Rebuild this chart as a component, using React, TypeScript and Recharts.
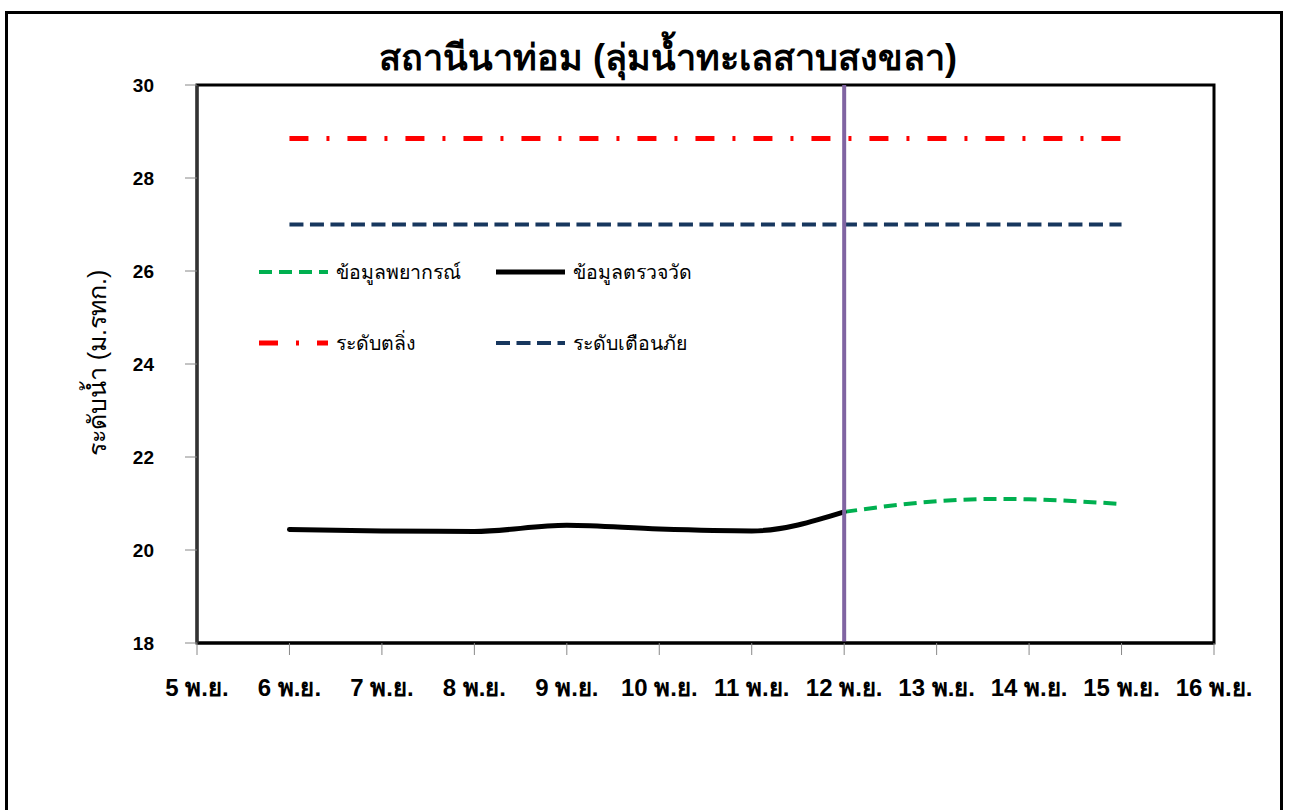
import React from 'react';
import {
  LineChart, Line, XAxis, YAxis, ReferenceLine, ReferenceArea,
} from 'recharts';

const days = [5, 6, 7, 8, 9, 10, 11, 12, 13, 14, 15, 16];
const dayLabels = ['5 พ.ย.', '6 พ.ย.', '7 พ.ย.', '8 พ.ย.', '9 พ.ย.', '10 พ.ย.', '11 พ.ย.', '12 พ.ย.', '13 พ.ย.', '14 พ.ย.', '15 พ.ย.', '16 พ.ย.'];
const observed = [null, 20.44, 20.41, 20.4, 20.53, 20.45, 20.41, 20.82, null, null, null, null];
const forecast = [null, null, null, null, null, null, null, 20.82, 21.05, 21.09, 20.99, null];
const bankLevel = [null, 28.85, 28.85, 28.85, 28.85, 28.85, 28.85, 28.85, 28.85, 28.85, 28.85, null];
const warningLevel = [null, 27.0, 27.0, 27.0, 27.0, 27.0, 27.0, 27.0, 27.0, 27.0, 27.0, null];
const yTicks = [18, 20, 22, 24, 26, 28, 30];
const todayDay = 12;

const title = 'สถานีนาท่อม (ลุ่มน้ำทะเลสาบสงขลา)';
const yTitle = 'ระดับน้ำ (ม.รทก.)';
const legendItems = [
  { name: 'ข้อมูลพยากรณ์', color: '#00B050', dash: '13 7', width: 4 },
  { name: 'ข้อมูลตรวจวัด', color: '#000000', dash: '', width: 5 },
  { name: 'ระดับตลิ่ง', color: '#FF0000', dash: '19 18 3 18', width: 5 },
  { name: 'ระดับเตือนภัย', color: '#17375E', dash: '14 6.5', width: 4 },
];

const data = days.map((d, i) => ({
  day: d,
  observed: observed[i],
  forecast: forecast[i],
  bank: bankLevel[i],
  warning: warningLevel[i],
}));

const FONT = '"Liberation Sans", Arial, sans-serif';

const LegendBox = () => (
  <div style={{ position: 'absolute', left: 258, top: 260, width: 500, height: 100, fontFamily: FONT }}>
    {legendItems.map((it, i) => {
      const col = i % 2;
      const row = Math.floor(i / 2);
      return (
        <div key={it.name} style={{ position: 'absolute', left: col * 237, top: row * 71, display: 'flex', alignItems: 'center', height: 24 }}>
          <svg width={72} height={10} style={{ display: 'block' }}>
            <line x1={1} y1={5} x2={70} y2={5} stroke={it.color} strokeWidth={it.width} strokeDasharray={it.dash || undefined} />
          </svg>
          <span style={{ marginLeft: 6, fontSize: 19.5, color: '#000', whiteSpace: 'nowrap' }}>{it.name}</span>
        </div>
      );
    })}
  </div>
);

export default function App() {
  return (
    <div style={{ position: 'absolute', left: 0, top: 0, width: 1290, height: 810, background: '#fff', overflow: 'hidden' }}>
      <div style={{ position: 'absolute', left: 5, top: 11, width: 1278, height: 820, border: '3px solid #000', boxSizing: 'border-box' }} />
      <div style={{ position: 'absolute', left: 368, top: 36, width: 600, textAlign: 'center', fontFamily: FONT, fontWeight: 'bold', fontSize: 36, lineHeight: '44px', color: '#000', whiteSpace: 'nowrap' }}>{title}</div>
      <div style={{ position: 'absolute', left: 97, top: 363, transform: 'translate(-50%, -50%) rotate(-90deg)', fontFamily: FONT, fontSize: 25, color: '#000', whiteSpace: 'nowrap' }}>{yTitle}</div>
      <LineChart width={1290} height={810} data={data} margin={{ top: 85, right: 76, bottom: 127, left: 137 }} style={{ position: 'absolute', left: 0, top: 0 }}>
        <XAxis
          dataKey="day"
          type="number"
          domain={[5, 16]}
          ticks={days}
          height={40}
          tickFormatter={(v: number) => dayLabels[days.indexOf(v)]}
          axisLine={{ stroke: '#000', strokeWidth: 3 }}
          tickLine={{ stroke: '#888', strokeWidth: 1 }}
          tickSize={12}
          tickMargin={24}
          tick={{ fill: '#000', fontSize: 24, fontWeight: 'bold', fontFamily: FONT }}
          interval={0}
        />
        <YAxis
          type="number"
          domain={[18, 30]}
          ticks={yTicks}
          width={60}
          axisLine={{ stroke: '#333', strokeWidth: 3 }}
          tickLine={{ stroke: '#888', strokeWidth: 1 }}
          tickSize={12}
          tickMargin={31}
          tick={{ fill: '#000', fontSize: 19, fontWeight: 'bold', fontFamily: FONT }}
          interval={0}
        />
        <ReferenceArea x1={5} x2={16} y1={18} y2={30} fill="none" stroke="#000" strokeWidth={3} ifOverflow="visible" />
        <Line dataKey="bank" stroke="#FF0000" strokeWidth={5} strokeDasharray="19 18 3 18" dot={false} isAnimationActive={false} type="linear" />
        <Line dataKey="warning" stroke="#17375E" strokeWidth={4} strokeDasharray="14 6.5" dot={false} isAnimationActive={false} type="linear" />
        <Line dataKey="forecast" stroke="#00B050" strokeWidth={4} strokeDasharray="13 7" dot={false} isAnimationActive={false} type="natural" />
        <Line dataKey="observed" stroke="#000000" strokeWidth={5} dot={false} isAnimationActive={false} type="monotone" strokeLinecap="round" />
        <ReferenceLine x={todayDay} stroke="#8064A2" strokeWidth={4} ifOverflow="visible" />
      </LineChart>
      <LegendBox />
    </div>
  );
}
